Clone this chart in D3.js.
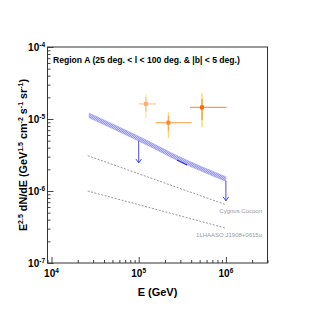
<!DOCTYPE html>
<meta charset="utf-8">
<style>
body{margin:0;background:#fff;}
text{font-family:"Liberation Sans",Arial,sans-serif;}
.frame{fill:none;stroke:#333;stroke-width:1;}
.tick line{stroke:#444;}
.lab{font-weight:bold;fill:#000;}
</style>
<body>
<script src="https://cdn.jsdelivr.net/npm/d3@7"></script>
<script>
// measured points (E in GeV, flux in GeV^1.5 cm^-2 s^-1 sr^-1)
var pointE    = [1.21e5, 2.19e5, 5.32e5];
var pointELo  = [1.00e5, 1.57e5, 3.88e5];
var pointEHi  = [1.59e5, 4.06e5, 1.02e6];
var pointFlux = [1.62e-5, 8.9e-6, 1.45e-5];
var statLo    = [1.25e-5, 6.8e-6, 9.7e-6];
var statHi    = [2.02e-5, 1.10e-5, 1.90e-5];
var sysLo     = [1.02e-5, 5.4e-6, 7.7e-6];
var sysHi     = [2.20e-5, 1.24e-5, 2.28e-5];

// model band
var bandE    = [2.7e4, 1e5, 3.2e5, 1e6];
var bandLow  = [1.04e-5, 4.95e-6, 2.45e-6, 1.36e-6];
var bandHigh = [1.21e-5, 5.75e-6, 2.85e-6, 1.58e-6];
var fitE     = [2.75e5, 3.58e5];
var fitFlux  = [2.70e-6, 2.30e-6];

// upper limits
var ulE    = [1e5, 1e6];
var ulFrom = [5.0e-6, 1.38e-6];
var ulTo   = [2.45e-6, 7.3e-7];

// reference spectra
var refE        = [2.6e4, 1e6];
var cocoonFlux  = [3.1e-6, 6.45e-7];
var lhaasoFlux  = [1.0e-6, 3.05e-7];
var refNames    = ["Cygnus Cocoon", "1LHAASO J1908+0615u"];

var xDecades = [4, 5, 6];
var yDecades = [-7, -6, -5, -4];
var title = "Region A (25 deg. < l < 100 deg. & |b| < 5 deg.)";

var W = 315, H = 310;
var m = {l:47.5, r:267.5, t:47, b:263};

var svg = d3.select("body").append("svg").attr("width", W).attr("height", H);

var x = d3.scaleLog().domain([9e3, 3e6]).range([m.l, m.r]);
var y = d3.scaleLog().domain([1e-7, 1e-4]).range([m.b, m.t]);

function logTicks(lo, hi){
	var t = [];
	for (var e = lo; e <= hi; e++) for (var k = 1; k < 10; k++) t.push(k*Math.pow(10, e));
	return t;
}
var isMajor = d => Math.abs(Math.log10(d) - Math.round(Math.log10(d))) < 1e-6;

// axes
var xt = logTicks(3, 6).filter(d => d >= x.domain()[0] && d <= x.domain()[1]*1.0001);
var gx = svg.append("g").attr("transform", "translate(0," + m.b + ")")
	.call(d3.axisBottom(x).tickValues(xt).tickSize(-3).tickFormat(""));
gx.select(".domain").remove();
gx.selectAll(".tick line").attr("y2", d => isMajor(d) ? -6 : -3);

var yt = logTicks(-7, -5);
yt.push(1e-4);
var gy = svg.append("g").attr("transform", "translate(" + m.l + ",0)")
	.call(d3.axisLeft(y).tickValues(yt).tickSize(-3).tickFormat(""));
gy.select(".domain").remove();
gy.selectAll(".tick line").attr("x2", d => isMajor(d) ? 6 : 3);

svg.append("rect").attr("class", "frame")
	.attr("x", m.l).attr("y", m.t).attr("width", m.r - m.l).attr("height", m.b - m.t);

// tick labels
xDecades.forEach(function(e){
	var t = svg.append("text").attr("class", "lab").attr("x", x(Math.pow(10, e)))
		.attr("y", 277).attr("text-anchor", "middle").style("font-size", "10px");
	t.append("tspan").text("10");
	t.append("tspan").attr("dy", -4).style("font-size", "6.5px").text(e);
});
yDecades.forEach(function(e){
	var t = svg.append("text").attr("class", "lab").attr("x", 45)
		.attr("y", y(Math.pow(10, e)) + 3.5).attr("text-anchor", "end").style("font-size", "10px");
	t.append("tspan").text("10");
	t.append("tspan").attr("dy", -4).style("font-size", "6.5px").text(e);
});

// axis titles
svg.append("text").attr("class", "lab").attr("x", (m.l + m.r)/2).attr("y", 296)
	.attr("text-anchor", "middle").style("font-size", "11px").text("E (GeV)");

var yl = svg.append("text").attr("class", "lab")
	.attr("transform", "translate(27," + ((m.t + m.b)/2) + ") rotate(-90)")
	.attr("text-anchor", "middle").style("font-size", "10.8px");
[["E",0],["2.5",1],[" dN/dE (GeV",0],["1.5",1],[" cm",0],["-2",1],[" s",0],["-1",1],[" sr",0],["-1",1],[")",0]]
	.forEach(function(p, i, arr){
		var prevSup = i > 0 && arr[i-1][1];
		var ts = yl.append("tspan").text(p[0]);
		if (p[1]) ts.attr("dy", -4).style("font-size", "7px");
		else if (prevSup) ts.attr("dy", 4);
	});

svg.append("text").attr("class", "lab").attr("x", 53).attr("y", 63)
	.style("font-size", "8.6px").text(title);

// reference dashed lines
var line = d3.line().x(d => x(d[0])).y(d => y(d[1]));
[cocoonFlux, lhaasoFlux].forEach(function(f, i){
	svg.append("path").attr("d", line(refE.map((e, j) => [e, f[j]])))
		.attr("fill", "none").attr("stroke", "#999").attr("stroke-width", 1)
		.attr("stroke-dasharray", "2,1.5");
	svg.append("text").attr("x", 262).attr("y", y(f[1]) + 8.5)
		.attr("text-anchor", "end").style("font-size", "6px").attr("fill", "#999")
		.text(refNames[i]);
});

// band
var area = d3.area().x(d => x(d[0])).y0(d => y(d[1])).y1(d => y(d[2])).curve(d3.curveMonotoneX);
var defs = svg.append("defs");
var pat = defs.append("pattern").attr("id", "hatch").attr("patternUnits", "userSpaceOnUse")
	.attr("width", 2).attr("height", 2);
pat.append("rect").attr("width", 2).attr("height", 2).attr("fill", "#c4c4fa");
pat.append("path").attr("d", "M0,2 L2,0").attr("stroke", "#8686f2").attr("stroke-width", 0.7);
svg.append("path").attr("d", area(bandE.map((e, i) => [e, bandLow[i], bandHigh[i]])))
	.attr("fill", "url(#hatch)").attr("stroke", "#a4a4f6").attr("stroke-width", 0.6);
svg.append("path").attr("d", line(fitE.map((e, i) => [e, fitFlux[i]])))
	.attr("fill", "none").attr("stroke", "#2b2bdd").attr("stroke-width", 1.1);

// upper limits
ulE.forEach(function(e, i){
	var px = x(e), y0 = y(ulFrom[i]), y1 = y(ulTo[i]);
	svg.append("line").attr("x1", px).attr("x2", px).attr("y1", y0).attr("y2", y1)
		.attr("stroke", "#4a4af5").attr("stroke-width", 1);
	svg.append("path").attr("d", "M" + (px-2.8) + "," + (y1-4) + " L" + px + "," + y1 + " L" + (px+2.8) + "," + (y1-4))
		.attr("fill", "none").attr("stroke", "#4a4af5").attr("stroke-width", 1);
});

// data points
var fade = [0.55, 0.8, 1];
pointE.forEach(function(e, i){
	var g = svg.append("g").attr("opacity", fade[i]);
	var px = x(e), py = y(pointFlux[i]);
	g.append("line").attr("x1", x(pointELo[i])).attr("x2", x(pointEHi[i])).attr("y1", py).attr("y2", py)
		.attr("stroke", "#f7a04a").attr("stroke-width", 1.2);
	g.append("line").attr("x1", px).attr("x2", px).attr("y1", y(sysHi[i])).attr("y2", y(sysLo[i]))
		.attr("stroke", "#ffd23c").attr("stroke-width", 1.2);
	g.append("line").attr("x1", px).attr("x2", px).attr("y1", y(statHi[i])).attr("y2", y(statLo[i]))
		.attr("stroke", "#ff9226").attr("stroke-width", 1.2);
	g.append("rect").attr("x", px - 2).attr("y", py - 2).attr("width", 4).attr("height", 4)
		.attr("fill", "#ff6a00");
});
</script>
</body>
</html>
